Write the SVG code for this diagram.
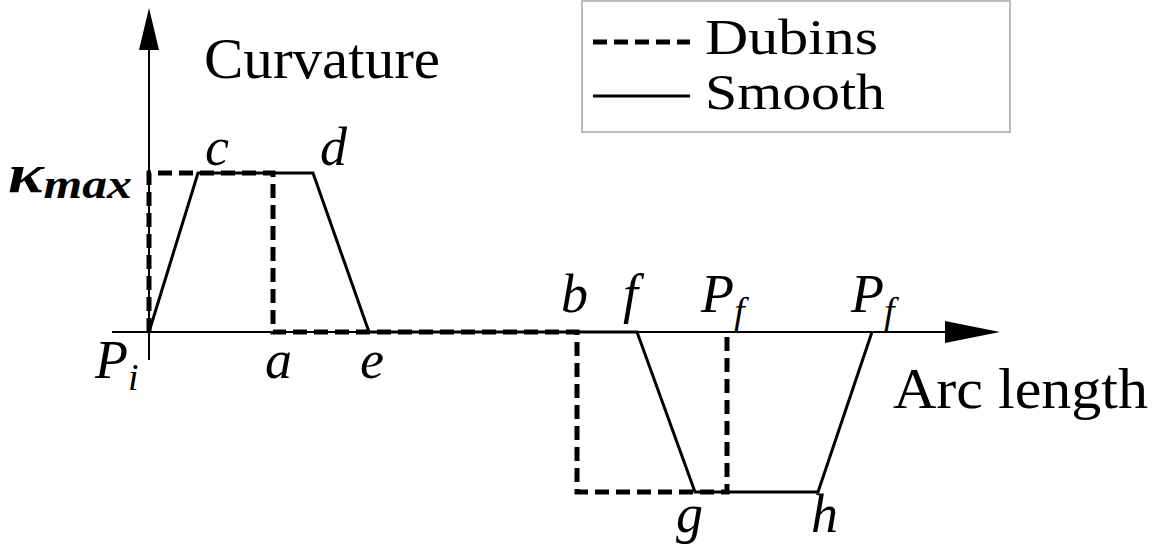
<svg xmlns="http://www.w3.org/2000/svg" width="1155" height="553" viewBox="0 0 1155 553">
<style>
text{font-family:"Liberation Serif","DejaVu Serif",serif;font-size:56px;fill:#000}
.lg{font-size:50px}
.i{font-style:italic;font-size:54px}
.dash{fill:none;stroke:#000;stroke-width:5;stroke-dasharray:14,7}
.sol{fill:none;stroke:#000;stroke-width:3}
</style>
<rect width="1155" height="553" fill="#fff"/>
<g id="legend">
<rect x="582" y="1" width="428" height="131" fill="#fff" stroke="#bbb" stroke-width="2"/>
<line x1="593" y1="42" x2="690" y2="42" class="dash"/>
<line x1="593" y1="96" x2="690" y2="96" class="sol"/>
<text x="705" y="54" class="lg" textLength="173" lengthAdjust="spacingAndGlyphs">Dubins</text>
<text x="705" y="109" class="lg" textLength="180" lengthAdjust="spacingAndGlyphs">Smooth</text>
</g>
<g id="axes">
<line x1="149" y1="40" x2="149" y2="360" stroke="#000" stroke-width="2"/>
<polygon points="149,8 139,50 159,50" fill="#000"/>
<line x1="112" y1="332" x2="960" y2="332" stroke="#000" stroke-width="2"/>
<polygon points="1000,332 945,321 945,343" fill="#000"/>
<text x="204" y="78" textLength="236" lengthAdjust="spacingAndGlyphs">Curvature</text>
<text x="893" y="408" textLength="255" lengthAdjust="spacingAndGlyphs">Arc length</text>
</g>
<g id="connectors">
<polyline class="dash" points="149,332 149,173 273,173 273,332 577,332 577,492 727,492 727,332"/>
<polyline class="sol" points="149,332 198,173 313,173 369,332 637,332 695,492 818,492 872,332"/>
</g>
<g id="labels">
<text x="8" y="192" font-weight="bold" class="i" font-size="56" textLength="124" lengthAdjust="spacingAndGlyphs">κ<tspan font-size="40" dy="6">max</tspan></text>
<text x="205" y="165" class="i">c</text>
<text x="320" y="165" class="i">d</text>
<text x="561" y="312" class="i">b</text>
<text x="623" y="312" class="i">f</text>
<text x="701" y="312" class="i">P<tspan font-size="38" dy="12">f</tspan></text>
<text x="851" y="312" class="i">P<tspan font-size="38" dy="12">f</tspan></text>
<text x="95" y="378" class="i">P<tspan font-size="38" dy="12">i</tspan></text>
<text x="265" y="378" class="i">a</text>
<text x="360" y="378" class="i">e</text>
<text x="676" y="532" class="i">g</text>
<text x="811" y="532" class="i">h</text>
</g>
</svg>
